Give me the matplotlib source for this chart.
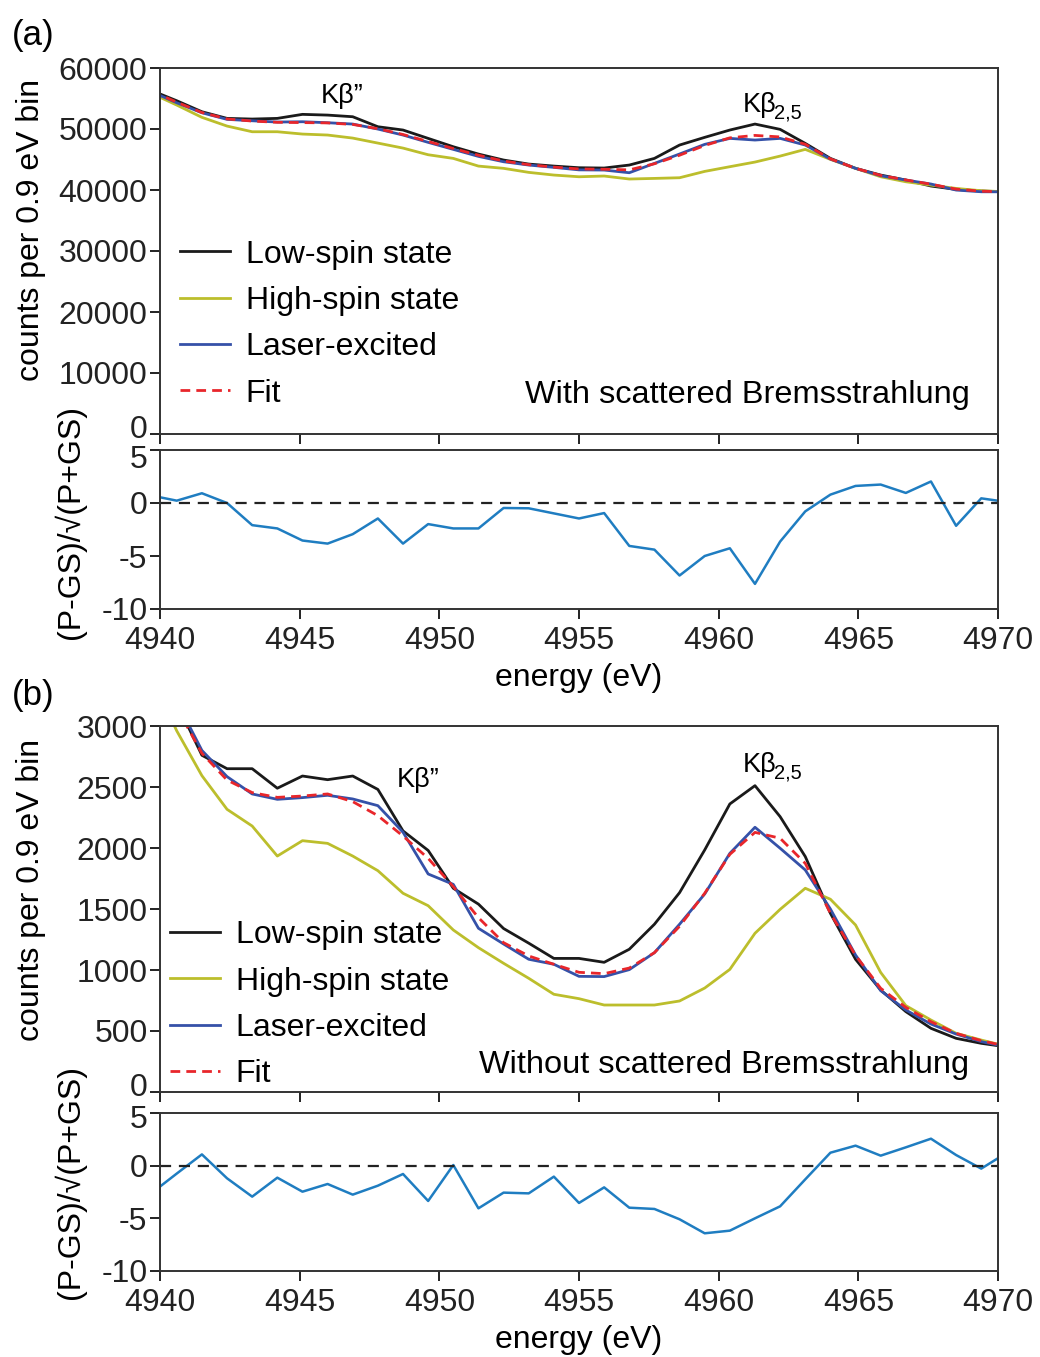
import matplotlib
matplotlib.use("Agg")
from matplotlib import pyplot as plt
from matplotlib.transforms import ScaledTranslation

plt.rcParams['font.family'] = ['Liberation Sans', 'DejaVu Sans']
plt.rcParams['axes.unicode_minus'] = False

# Energy grid (0.9 eV bins)
ENERGY = [4939.7, 4940.6, 4941.5, 4942.4, 4943.3, 4944.2, 4945.1, 4946.0, 4946.9, 4947.8,
          4948.7, 4949.6, 4950.5, 4951.4, 4952.3, 4953.2, 4954.1, 4955.0, 4955.9, 4956.8,
          4957.7, 4958.6, 4959.5, 4960.4, 4961.3, 4962.2, 4963.1, 4964.0, 4964.9, 4965.8,
          4966.7, 4967.6, 4968.5, 4969.4, 4970.3]

# Panel (a): with scattered Bremsstrahlung
LS_A = [56300, 54630, 52830, 51740, 51630, 51740, 52400, 52280, 52010, 50370,
        49830, 48460, 47090, 45890, 44910, 44250, 43920, 43650, 43600, 44090,
        45180, 47370, 48630, 49830, 50810, 49940, 47640, 45180, 43550, 42450,
        41630, 40650, 40100, 39830, 39700]
HS_A = [55840, 53920, 51910, 50480, 49550, 49550, 49170, 49010, 48510, 47690,
        46870, 45780, 45180, 43920, 43550, 42890, 42450, 42170, 42290, 41800,
        41900, 42010, 43050, 43820, 44580, 45560, 46660, 45020, 43550, 42170,
        41350, 40800, 40260, 39880, 39700]
LASER_A = [56100, 54300, 52660, 51580, 51350, 51140, 51190, 51030, 50810, 49990,
           49010, 47810, 46660, 45510, 44630, 44090, 43710, 43300, 43270, 42830,
           44360, 45900, 47480, 48460, 48190, 48460, 47370, 45070, 43550, 42340,
           41630, 40980, 39990, 39710, 39700]
FIT_A = [56200, 54400, 52700, 51650, 51300, 51100, 51050, 51000, 50750, 50050,
         49100, 47950, 46800, 45700, 44750, 44150, 43750, 43450, 43400, 43300,
         44300, 45700, 47300, 48550, 48950, 48700, 47500, 45100, 43550, 42400,
         41650, 40950, 40150, 39800, 39700]
RES_A = [0.7, 0.22, 0.92, 0.0, -2.09, -2.4, -3.54, -3.83, -2.94, -1.46,
         -3.83, -1.99, -2.4, -2.4, -0.47, -0.5, -0.98, -1.46, -0.95, -4.05,
         -4.4, -6.84, -5.0, -4.27, -7.63, -3.64, -0.79, 0.79, 1.61, 1.74,
         0.95, 2.03, -2.15, 0.44, 0.1]

# Panel (b): without scattered Bremsstrahlung
LS_B = [3600, 3190, 2760, 2650, 2650, 2490, 2590, 2560, 2590, 2480,
        2140, 1980, 1670, 1540, 1340, 1220, 1095, 1095, 1063, 1170,
        1375, 1634, 1984, 2361, 2511, 2257, 1930, 1465, 1088, 836,
        659, 522, 440, 399, 370]
HS_B = [3400, 2960, 2593, 2317, 2180, 1934, 2060, 2038, 1934, 1814,
        1629, 1527, 1328, 1183, 1055, 932, 801, 765, 713, 713,
        713, 746, 852, 1005, 1301, 1497, 1670, 1580, 1369, 980,
        708, 590, 481, 426, 375]
LASER_B = [3600, 3200, 2800, 2585, 2443, 2399, 2413, 2432, 2402, 2347,
           2129, 1787, 1702, 1342, 1213, 1088, 1047, 948, 946, 1003,
           1142, 1375, 1623, 1956, 2170, 1998, 1820, 1500, 1123, 831,
           672, 557, 475, 413, 370]
FIT_B = [3500, 3150, 2776, 2557, 2454, 2415, 2426, 2443, 2380, 2265,
         2098, 1915, 1683, 1429, 1224, 1115, 1047, 981, 970, 1016,
         1142, 1358, 1629, 1948, 2128, 2080, 1874, 1465, 1120, 850,
         694, 576, 481, 421, 375]
RES_B = [-2.6, -0.75, 1.07, -1.2, -2.94, -1.14, -2.47, -1.74, -2.75, -1.9,
         -0.79, -3.35, 0.06, -4.05, -2.56, -2.63, -1.04, -3.54, -2.06, -3.99,
         -4.11, -5.09, -6.42, -6.17, -5.0, -3.86, -1.3, 1.23, 1.9, 0.95,
         1.74, 2.56, 1.01, -0.28, 1.2]

LABELS = ["Low-spin state", "High-spin state", "Laser-excited", "Fit"]
XTICKS = [4940, 4945, 4950, 4955, 4960, 4965, 4970]

C_LS = '#1a1a1a'
C_HS = '#bcbe2c'
C_LASER = '#3551a8'
C_FIT = '#e8262b'
C_RES = '#1f7dc1'
FS = 23
W, H = 1040.0, 1357.0


def style_axes(ax):
    for sp in ax.spines.values():
        sp.set_linewidth(1.4)
        sp.set_color('#333333')
    ax.tick_params(direction='out', length=7, width=1.4, labelsize=FS, pad=2, colors='#222222')
    ax.tick_params(axis='x', pad=5.5)
    ax.set_xlim(4940, 4970)
    ax.set_xticks(XTICKS)


def shift_label(fig, ax, index, dy_px):
    # nudge a single y tick label vertically (pixels, + is up)
    lab = ax.yaxis.get_major_ticks()[index].label1
    lab.set_transform(lab.get_transform() + ScaledTranslation(0, dy_px / fig.dpi, fig.dpi_scale_trans))


def draw_panel(fig, y_top, y_res, series, res, ymax, yticks, note, kb1, kb2, leg_anchor, tag, tag_y,
               lab_y, res_lab_y, five_shift):
    left, width = 160 / W, 838 / W
    ax = fig.add_axes([left, 1 - y_top[1] / H, width, (y_top[1] - y_top[0]) / H])
    axr = fig.add_axes([left, 1 - y_res[1] / H, width, (y_res[1] - y_res[0]) / H])

    ls, hs, laser, fit = series
    ax.plot(ENERGY, ls, color=C_LS, lw=2.0, label=LABELS[0])
    ax.plot(ENERGY, hs, color=C_HS, lw=2.0, label=LABELS[1])
    ax.plot(ENERGY, laser, color=C_LASER, lw=2.0, label=LABELS[2])
    ax.plot(ENERGY, fit, color=C_FIT, lw=2.0, ls=(0, (3.5, 2.2)), label=LABELS[3])
    style_axes(ax)
    ax.set_ylim(0, ymax)
    ax.set_yticks(yticks)
    ax.tick_params(axis='x', labelbottom=False)
    ax.legend(loc='upper left', bbox_to_anchor=leg_anchor, frameon=False, fontsize=FS,
              handlelength=1.55, handletextpad=0.5, labelspacing=0.51, borderpad=0, borderaxespad=0)
    ax.text(0.966, note[1], note[0], transform=ax.transAxes, ha='right', va='center', fontsize=23.4)
    ax.text(kb1[0], kb1[1], "Kβ\u201d", transform=ax.transAxes, ha='left', va='baseline', fontsize=19.5)
    ax.text(kb2[0], kb2[1], "Kβ", transform=ax.transAxes, ha='left', va='baseline', fontsize=19.5)
    ax.annotate("2,5", xy=kb2, xycoords='axes fraction', xytext=(22.5, -5), textcoords='offset points',
                ha='left', va='baseline', fontsize=14.5)
    shift_label(fig, ax, 0, 7)

    axr.plot(ENERGY, res, color=C_RES, lw=1.8)
    axr.axhline(0, color='#222222', lw=1.6, ls=(0, (5, 3.5)))
    style_axes(axr)
    axr.set_ylim(-10, 5)
    axr.set_yticks([5, 0, -5, -10])
    axr.set_xlabel("energy (eV)", fontsize=FS, labelpad=5)
    shift_label(fig, axr, 0, five_shift)

    fig.text(12 / W, 1 - tag_y / H, tag, fontsize=25, ha='left', va='center')
    fig.text(31 / W, 1 - lab_y / H, "counts per 0.9 eV bin", rotation=90, fontsize=FS,
             ha='center', va='center')
    fig.text(70 / W, 1 - res_lab_y / H, "(P-GS)/\u221a(P+GS)", rotation=90, fontsize=FS,
             ha='center', va='center')


fig = plt.figure(figsize=(10.4, 13.57), dpi=100)

draw_panel(fig, (68, 434), (450, 609), (LS_A, HS_A, LASER_A, FIT_A), RES_A, 60000,
           [0, 10000, 20000, 30000, 40000, 50000, 60000],
           ("With scattered Bremsstrahlung", 0.107), (0.192, 0.904), (0.696, 0.881),
           (0.024, 0.531), "(a)", 35, 230, 522, -6)
draw_panel(fig, (726, 1092), (1113, 1271), (LS_B, HS_B, LASER_B, FIT_B), RES_B, 3000,
           [0, 500, 1000, 1500, 2000, 2500, 3000],
           ("Without scattered Bremsstrahlung", 0.074), (0.2825, 0.834), (0.696, 0.875),
           (0.012, 0.469), "(b)", 695, 890, 1182, -3)

fig.savefig("out.png", dpi=100)
